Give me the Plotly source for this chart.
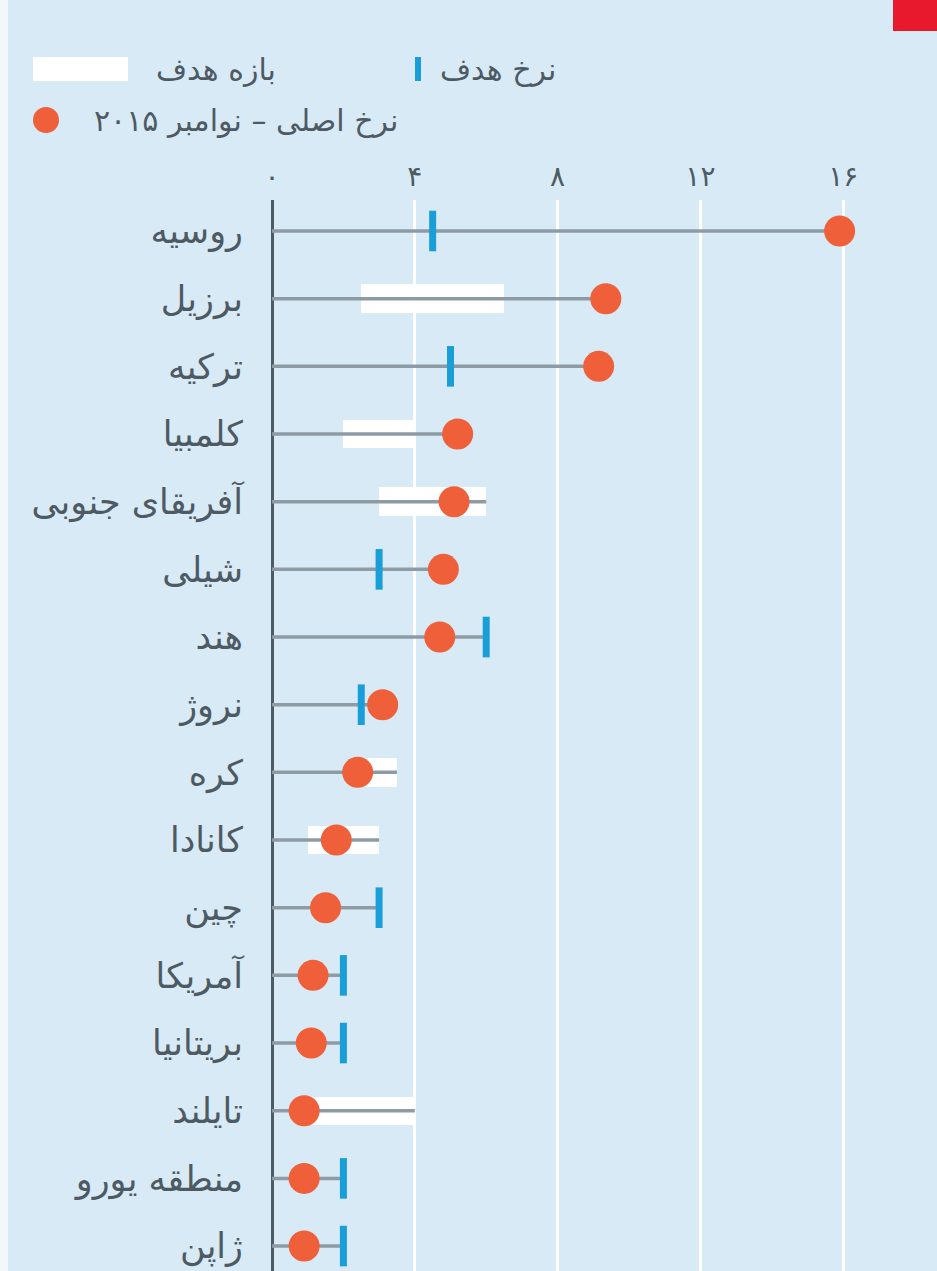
import plotly.graph_objects as go

# ---------------- data ----------------
countries = ['روسیه', 'برزیل', 'ترکیه', 'کلمبیا', 'آفریقای جنوبی', 'شیلی', 'هند', 'نروژ',
             'کره', 'کانادا', 'چین', 'آمریکا', 'بریتانیا', 'تایلند', 'منطقه یورو', 'ژاپن']
actual_rate = [15.9, 9.35, 9.15, 5.2, 5.1, 4.8, 4.7, 3.1, 2.4, 1.8, 1.5, 1.15, 1.1, 0.9, 0.9, 0.9]
target_rate = [4.5, None, 5.0, None, None, 3.0, 6.0, 2.5, None, None, 3.0, 2.0, 2.0, None, 2.0, 2.0]
band_low = [None, 2.5, None, 2.0, 3.0, None, None, None, 2.5, 1.0, None, None, None, 1.0, None, None]
band_high = [None, 6.5, None, 4.0, 6.0, None, None, None, 3.5, 3.0, None, None, None, 4.0, None, None]
x_tick_vals = [0, 4, 8, 12, 16]
x_tick_text = ['۰', '۴', '۸', '۱۲', '۱۶']
legend_band = 'بازه هدف'
legend_target = 'نرخ هدف'
legend_actual = 'نرخ اصلی – نوامبر ۲۰۱۵'

# ---------------- layout constants ----------------
W, H = 937, 1271
L, R, T, B = 272, 0, 200, 0
PW, PH = W - L - R, H - T - B
PX_PER_UNIT = 35.7
ROW0, ROW_STEP = 231, 67.67

BG = '#d8eaf5'
FONT = 'DejaVu Sans'
TEXT_COL = '#4e5a63'

def px2x(px):
    return (px - L) / PW

def py2y(py):
    return 1 - (py - T) / PH

rows = list(range(len(countries)))

fig = go.Figure()

# target bands (white)
band_rows = [r for r in rows if band_low[r] is not None]
fig.add_trace(go.Bar(
    orientation='h',
    y=band_rows,
    base=[band_low[r] for r in band_rows],
    x=[band_high[r] - band_low[r] for r in band_rows],
    width=0.42,
    marker=dict(color='white', line=dict(width=0)),
    hoverinfo='skip', showlegend=False,
))

# grey connector lines
lx, ly = [], []
for r in rows:
    ends = [v for v in (actual_rate[r], target_rate[r], band_high[r]) if v is not None]
    lx += [0, max(ends), None]
    ly += [r, r, None]
fig.add_trace(go.Scatter(x=lx, y=ly, mode='lines',
                         line=dict(color='#8e9ba4', width=3.5),
                         hoverinfo='skip', showlegend=False))

# target ticks (blue)
t_rows = [r for r in rows if target_rate[r] is not None]
fig.add_trace(go.Scatter(
    x=[target_rate[r] for r in t_rows], y=t_rows, mode='markers',
    marker=dict(symbol='line-ns', size=29, line=dict(color='#1a9ed8', width=7)),
    hoverinfo='skip', showlegend=False))

# actual (orange dots)
fig.add_trace(go.Scatter(
    x=actual_rate, y=rows, mode='markers',
    marker=dict(symbol='circle', size=31, color='#ef5f3a', line=dict(width=0)),
    hoverinfo='skip', showlegend=False))

shapes = [
    # left light strip
    dict(type='rect', xref='paper', yref='paper', x0=px2x(0), x1=px2x(8), y0=py2y(H), y1=py2y(0),
         fillcolor='#f2f7fb', line=dict(width=0), layer='below'),
    # red corner box
    dict(type='rect', xref='paper', yref='paper', x0=px2x(893), x1=px2x(W), y0=py2y(31), y1=py2y(0),
         fillcolor='#e8192c', line=dict(width=0)),
    # legend keys
    dict(type='rect', xref='paper', yref='paper', x0=px2x(33), x1=px2x(128), y0=py2y(81), y1=py2y(57),
         fillcolor='white', line=dict(width=0)),
    dict(type='rect', xref='paper', yref='paper', x0=px2x(415), x1=px2x(421), y0=py2y(81), y1=py2y(57),
         fillcolor='#1a9ed8', line=dict(width=0)),
    dict(type='circle', xref='paper', yref='paper', x0=px2x(33), x1=px2x(59), y0=py2y(133), y1=py2y(107),
         fillcolor='#ef5f3a', line=dict(width=0)),
]

LEG_SIZE = 30
annotations = [
    dict(text=legend_band, xref='paper', yref='paper', x=px2x(278), y=py2y(69),
         xanchor='right', yanchor='middle', showarrow=False,
         font=dict(family=FONT, size=LEG_SIZE, color=TEXT_COL)),
    dict(text=legend_target, xref='paper', yref='paper', x=px2x(558), y=py2y(69),
         xanchor='right', yanchor='middle', showarrow=False,
         font=dict(family=FONT, size=LEG_SIZE, color=TEXT_COL)),
    dict(text=legend_actual, xref='paper', yref='paper', x=px2x(400), y=py2y(120),
         xanchor='right', yanchor='middle', showarrow=False,
         font=dict(family=FONT, size=LEG_SIZE, color=TEXT_COL)),
]

y_top = -(ROW0 - T) / ROW_STEP
y_bot = (H - B - ROW0) / ROW_STEP

fig.update_layout(
    width=W, height=H,
    margin=dict(l=L, r=R, t=T, b=B, pad=0),
    paper_bgcolor=BG, plot_bgcolor=BG,
    showlegend=False,
    bargap=0,
    shapes=shapes,
    annotations=annotations,
    xaxis=dict(
        side='top', range=[0, PW / PX_PER_UNIT],
        tickvals=x_tick_vals, ticktext=x_tick_text,
        showgrid=True, gridcolor='white', gridwidth=3,
        zeroline=True, zerolinecolor='#4f5b63', zerolinewidth=3,
        showline=False, ticks='',
        tickfont=dict(family=FONT, size=28, color=TEXT_COL),
        ticklabelstandoff=7,
        fixedrange=True,
    ),
    yaxis=dict(
        range=[y_bot, y_top],
        tickvals=rows, ticktext=countries,
        showgrid=False, zeroline=False, showline=False, ticks='',
        tickfont=dict(family=FONT, size=35, color=TEXT_COL),
        ticklabelstandoff=28,
        fixedrange=True,
    ),
)

fig.write_html('out.html',
               config={'displayModeBar': False, 'staticPlot': True},
               post_script="document.body.style.margin='0';document.body.style.overflow='hidden';")
